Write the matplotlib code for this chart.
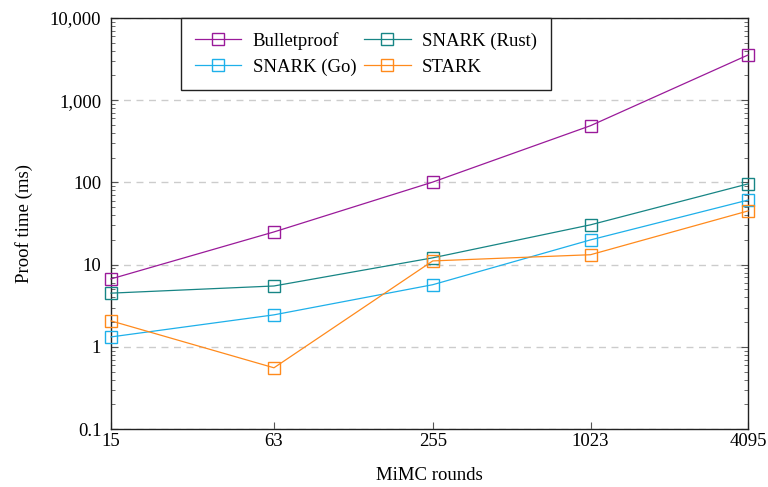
import matplotlib
matplotlib.use("Agg")
import matplotlib.pyplot as plt
from matplotlib.ticker import FixedLocator, LogLocator, NullFormatter, FuncFormatter

plt.rcParams['font.family'] = ['Liberation Serif', 'DejaVu Serif']

rounds = [15, 63, 255, 1023, 4095]
bulletproof = [6.7, 25, 101, 490, 3550]
snark_rust = [4.5, 5.5, 12.1, 30.5, 96]
snark_go = [1.32, 2.45, 5.7, 20, 61]
stark = [2.07, 0.556, 11.1, 13.2, 45]

series = [
    ("Bulletproof", bulletproof, "#9a1a9a"),
    ("SNARK (Go)", snark_go, "#1eb0ea"),
    ("SNARK (Rust)", snark_rust, "#178585"),
    ("STARK", stark, "#ff8a1c"),
]

fig = plt.figure(figsize=(7.68, 4.87), dpi=100)
ax = fig.add_axes([0.1445, 0.119, 0.8295, 0.844])

for name, vals, col in series:
    ax.plot(rounds, vals, color=col, lw=0.9, marker='s', markersize=8.2,
            markerfacecolor='none', markeredgecolor=col, markeredgewidth=1.0,
            label=name, clip_on=False, zorder=3)

ax.set_xscale('log')
ax.set_yscale('log')
ax.set_xlim(15, 4095)
ax.set_ylim(0.1, 10000)

ax.xaxis.set_major_locator(FixedLocator(rounds))
ax.xaxis.set_minor_locator(FixedLocator([]))
ax.xaxis.set_major_formatter(FuncFormatter(lambda v, p: f"{int(round(v))}"))
ax.xaxis.set_minor_formatter(NullFormatter())

ax.yaxis.set_major_locator(LogLocator(base=10, numticks=10))
ax.yaxis.set_minor_locator(LogLocator(base=10, subs=range(2, 10), numticks=100))
ax.yaxis.set_major_formatter(FuncFormatter(lambda v, p: f"{v:,.0f}" if v >= 1 else f"{v:g}"))
ax.yaxis.set_minor_formatter(NullFormatter())

ax.tick_params(axis='y', which='both', direction='in', left=True, right=True, labelsize=13.5,
               colors='#555555', labelcolor='black', pad=7)
ax.tick_params(axis='y', which='major', length=5, width=0.8)
ax.tick_params(axis='y', which='minor', length=3, width=0.6)
ax.tick_params(axis='x', which='major', direction='in', length=5, width=0.8, labelsize=13.5,
               colors='#555555', labelcolor='black', pad=3)

ax.yaxis.grid(True, which='major', linestyle=(0, (5, 4)), color='#cccccc', lw=1.0)
ax.set_axisbelow(True)
for s in ax.spines.values():
    s.set_linewidth(1.0)
    s.set_color('#222222')

ax.set_xlabel("MiMC rounds", fontsize=13.5, labelpad=12)
ax.set_ylabel("Proof time (ms)", fontsize=13.5, labelpad=12)

leg = ax.legend(ncol=2, loc='upper center', bbox_to_anchor=(0.40, 1.0), fontsize=13.5,
                frameon=True, fancybox=False, edgecolor='#222222', framealpha=1,
                handlelength=2.5, columnspacing=0.4, handletextpad=0.6, borderpad=0.75,
                labelspacing=0.45, borderaxespad=0)
leg.get_frame().set_linewidth(1.0)

fig.savefig("out.png", dpi=100)
